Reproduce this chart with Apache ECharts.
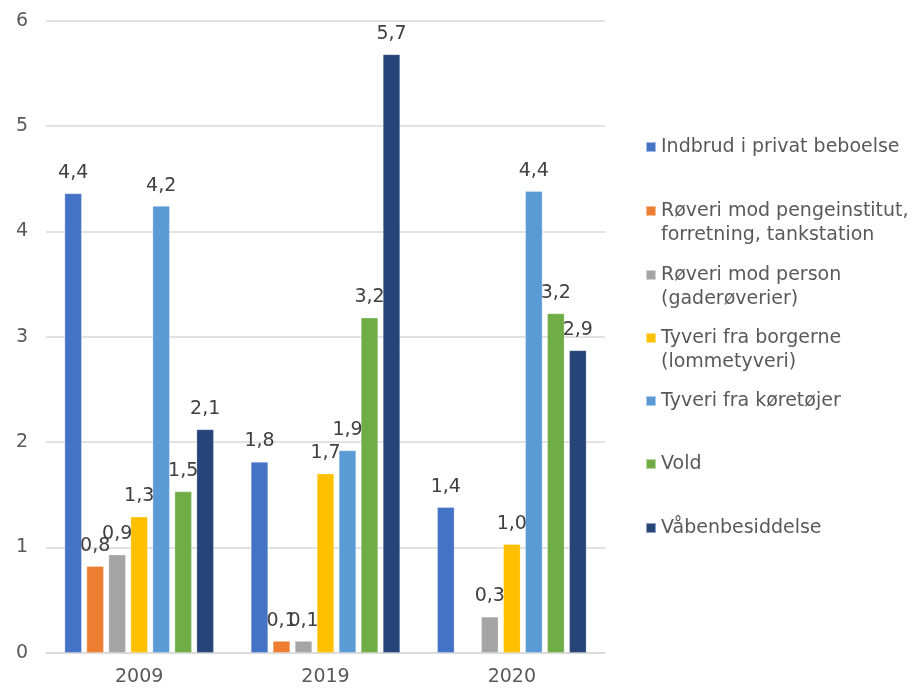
<!DOCTYPE html>
<html>
<head>
<meta charset="utf-8">
<script src="https://cdn.jsdelivr.net/npm/echarts@6/dist/echarts.min.js"></script>
<style>html,body{margin:0;padding:0;background:#fff}#c{width:915px;height:688px}</style>
</head>
<body>
<div id="c"></div>
<script>
const categories = ['2009', '2019', '2020'];
const seriesNames = [
  'Indbrud i privat beboelse',
  'Røveri mod pengeinstitut,\nforretning, tankstation',
  'Røveri mod person\n(gaderøverier)',
  'Tyveri fra borgerne\n(lommetyveri)',
  'Tyveri fra køretøjer',
  'Vold',
  'Våbenbesiddelse'
];
const indbrud = [4.36, 1.81, 1.38];
const roeveriPenge = [0.82, 0.11, null];
const roeveriPerson = [0.93, 0.11, 0.34];
const tyveriBorgere = [1.29, 1.70, 1.03];
const tyveriKoeretoejer = [4.24, 1.92, 4.38];
const vold = [1.53, 3.18, 3.22];
const vaaben = [2.12, 5.68, 2.87];
const yTicks = [0, 1, 2, 3, 4, 5, 6];

const seriesData = [indbrud, roeveriPenge, roeveriPerson, tyveriBorgere, tyveriKoeretoejer, vold, vaaben];
const colors = ['#4472C4', '#ED7D31', '#A5A5A5', '#FFC000', '#5B9BD5', '#70AD47', '#264478'];
const legendCenters = [147, 211, 275, 338, 401, 464, 528];
const FONT = 'DejaVu Sans';
const FS = 19;

const chart = echarts.init(document.getElementById('c'));
const legends = seriesNames.map((n, i) => {
  const twoLine = n.indexOf('\n') >= 0;
  return {
    data: [n],
    orient: 'vertical',
    left: 645,
    top: legendCenters[i] - (twoLine ? 36 : 12),
    icon: 'rect',
    itemWidth: 10,
    itemHeight: 10,
    padding: 0,
    selectedMode: false,
    formatter: name => (name.indexOf('\n') >= 0 ? ' \n' + name : name),
    textStyle: {
      fontFamily: FONT, fontSize: FS, color: '#595959', lineHeight: 24
    }
  };
});

chart.setOption({
  animation: false,
  color: colors,
  textStyle: { fontFamily: FONT },
  grid: { left: 46, right: 310, top: 20.7, bottom: 35.3, containLabel: false },
  legend: legends,
  xAxis: {
    type: 'category',
    data: categories,
    axisLine: { lineStyle: { color: '#d9d9d9', width: 1.5 } },
    axisTick: { show: false },
    axisLabel: { fontFamily: FONT, fontSize: FS, color: '#595959', margin: 15 }
  },
  yAxis: {
    type: 'value',
    min: yTicks[0],
    max: yTicks[yTicks.length - 1],
    interval: 1,
    axisLine: { show: false },
    axisTick: { show: false },
    splitLine: { lineStyle: { color: '#d9d9d9', width: 1.5 } },
    axisLabel: { fontFamily: FONT, fontSize: FS, color: '#595959', margin: 18 }
  },
  series: seriesData.map((d, i) => ({
    name: seriesNames[i],
    type: 'bar',
    data: d,
    barGap: '29%',
    barCategoryGap: '20%',
    itemStyle: { color: colors[i], borderColor: 'rgba(255,255,255,0.5)', borderWidth: 0.5 },
    label: {
      show: true,
      position: 'top',
      distance: 11,
      fontFamily: FONT,
      fontSize: FS,
      color: '#404040',
      formatter: p => p.value == null ? '' : p.value.toFixed(1).replace('.', ',')
    }
  }))
});
</script>
</body>
</html>
